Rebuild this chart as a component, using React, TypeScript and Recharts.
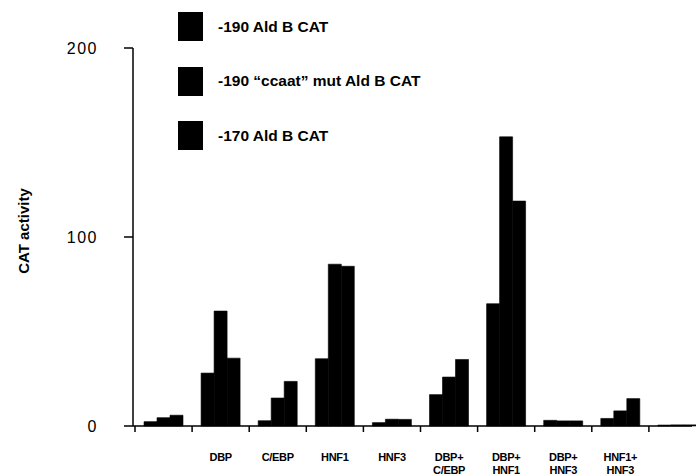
import React from "react";
import { BarChart, Bar, XAxis, YAxis, Legend } from "recharts";

// groups along the x axis; the first and last carry no label
const categories = ["", "DBP", "C/EBP", "HNF1", "HNF3", "DBP+\nC/EBP", "DBP+\nHNF1", "DBP+\nHNF3", "HNF1+\nHNF3", ""];
const ald190 = [2.3, 28, 2.8, 35.6, 1.8, 16.6, 64.7, 3, 4, 0.5];
const ccaatMut = [4.4, 60.8, 14.8, 85.6, 3.6, 25.9, 153, 2.7, 8, 0.6];
const ald170 = [5.7, 35.9, 23.6, 84.5, 3.5, 35.2, 119, 2.7, 14.5, 0.6];
const seriesNames = ["-190 Ald B CAT", "-190 \u201cccaat\u201d mut Ald B CAT", "-170 Ald B CAT"];
const yTicks = [0, 100, 200];

const data = categories.map((name, i) => ({
  name,
  ald190: ald190[i],
  ccaatMut: ccaatMut[i],
  ald170: ald170[i],
}));

const W = 696;
const H = 475;
const PLOT_LEFT = 133;
const PLOT_BOTTOM = 426;
const PAD_L = 2;
const PAD_R = -14;
const BAND = (W - 4 - PLOT_LEFT - PAD_L - PAD_R) / categories.length;
const FONT = "'Liberation Sans', Arial, Helvetica, sans-serif";

function CatTick(props: any) {
  const { x, payload } = props;
  const left = x - BAND / 2;
  const lines = String(payload.value).split("\n");
  return (
    <g>
      <line x1={left} y1={PLOT_BOTTOM} x2={left} y2={PLOT_BOTTOM + 6} stroke="#000" strokeWidth={1.5} />
      {lines.map((ln, i) => (
        <text
          key={i}
          x={x}
          y={460.5 + i * 13.5}
          textAnchor="middle"
          fontFamily={FONT}
          fontWeight="bold"
          fontSize={11}
          letterSpacing={-0.3}
          fill="#000"
        >
          {ln}
        </text>
      ))}
    </g>
  );
}

function LegendBox() {
  return (
    <div style={{ fontFamily: FONT }}>
      {seriesNames.map((n) => (
        <div key={n} style={{ display: "flex", alignItems: "center", height: 29, marginBottom: 25.5 }}>
          <div style={{ width: 25, height: 29, background: "#000" }} />
          <span style={{ marginLeft: 15, fontSize: 15.5, fontWeight: "bold", color: "#000", whiteSpace: "nowrap" }}>
            {n}
          </span>
        </div>
      ))}
    </div>
  );
}

export default function App() {
  return (
    <div style={{ position: "absolute", left: 0, top: 0, width: W, height: H, background: "#fff" }}>
      <BarChart
        width={W}
        height={H}
        data={data}
        margin={{ top: 48, right: 4, left: 0, bottom: 0 }}
        barGap={0}
        barSize={13}
      >
        <XAxis
          dataKey="name"
          interval={0}
          tickLine={false}
          axisLine={{ stroke: "#000", strokeWidth: 1.5 }}
          padding={{ left: PAD_L, right: PAD_R }}
          height={H - PLOT_BOTTOM}
          tick={<CatTick />}
        />
        <YAxis
          domain={[0, 200]}
          ticks={yTicks}
          width={PLOT_LEFT}
          tickSize={9}
          tickMargin={26}
          axisLine={{ stroke: "#000", strokeWidth: 1.5 }}
          tickLine={{ stroke: "#000", strokeWidth: 1.5 }}
          tick={{ fill: "#000", fontSize: 16, fontFamily: FONT, letterSpacing: 1.5 }}
          label={{
            content: () => (
              <text
                x={23}
                y={231}
                transform="rotate(-90 23 231)"
                textAnchor="middle"
                dominantBaseline="central"
                fontFamily={FONT}
                fontWeight="bold"
                fontSize={15}
                fill="#000"
              >
                CAT activity
              </text>
            ),
          }}
        />
        <Legend
          layout="horizontal"
          verticalAlign="middle"
          align="center"
          wrapperStyle={{ top: 12, left: 178, width: "auto" }}
          content={() => <LegendBox />}
        />
        <Bar dataKey="ald190" name={seriesNames[0]} fill="#000" stroke="#000" strokeWidth={0.6} isAnimationActive={false} />
        <Bar dataKey="ccaatMut" name={seriesNames[1]} fill="#000" stroke="#000" strokeWidth={0.6} isAnimationActive={false} />
        <Bar dataKey="ald170" name={seriesNames[2]} fill="#000" stroke="#000" strokeWidth={0.6} isAnimationActive={false} />
      </BarChart>
    </div>
  );
}
